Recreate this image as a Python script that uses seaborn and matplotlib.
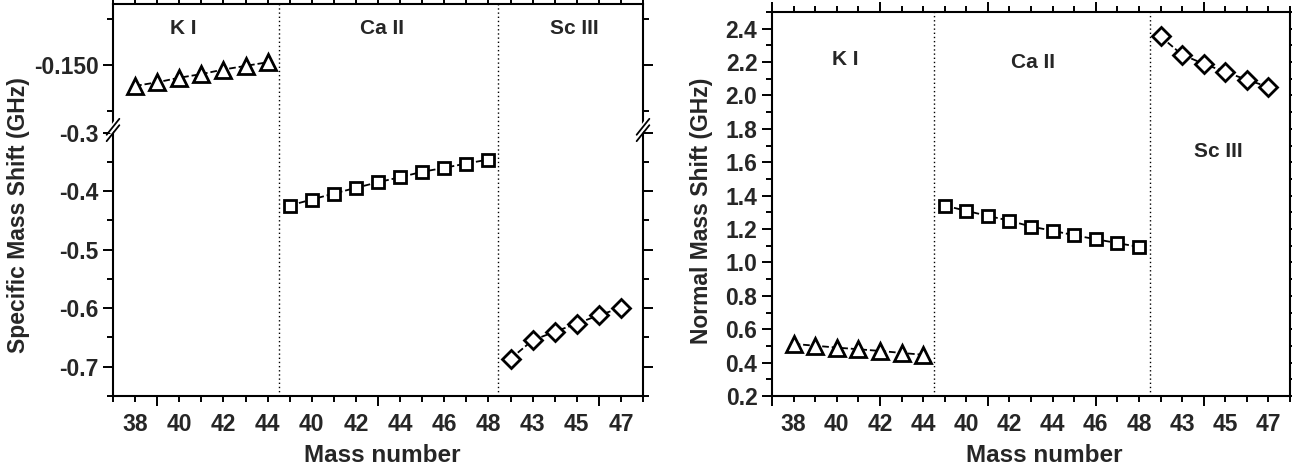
import numpy as np
import matplotlib
matplotlib.use("Agg")
import matplotlib.pyplot as plt
from matplotlib.ticker import MultipleLocator, FormatStrFormatter
import seaborn as sns

# ---- data -------------------------------------------------------------
k_mass = [38, 39, 40, 41, 42, 43, 44]
ca_mass = [39, 40, 41, 42, 43, 44, 45, 46, 47, 48]
sc_mass = [42, 43, 44, 45, 46, 47]

sms_k = [-0.1523, -0.1519, -0.1514, -0.1510, -0.1505, -0.1501, -0.1497]
sms_ca = [-0.4244, -0.4142, -0.4039, -0.3942, -0.3846, -0.3760, -0.3668,
          -0.3600, -0.3526, -0.3458]
sms_sc = [-0.6865, -0.6547, -0.6403, -0.6262, -0.6120, -0.5993]

nms_k = [0.512, 0.501, 0.490, 0.480, 0.470, 0.458, 0.447]
nms_ca = [1.341, 1.309, 1.279, 1.250, 1.215, 1.190, 1.163, 1.139, 1.116, 1.093]
nms_sc = [2.354, 2.244, 2.190, 2.141, 2.094, 2.051]

ion_labels = ["K I", "Ca II", "Sc III"]
left_tick_masses = [[38, 40, 42, 44], [40, 42, 44, 46, 48], [43, 45, 47]]
right_tick_masses = [[38, 40, 42, 44], [40, 42, 44, 46, 48], [43, 45, 47]]

# ---- style ------------------------------------------------------------
sns.set_style("ticks")
plt.rcParams["font.family"] = ["Liberation Sans", "DejaVu Sans"]
plt.rcParams["font.weight"] = "bold"
plt.rcParams["axes.labelweight"] = "bold"

W, H = 1292, 476
fig = plt.figure(figsize=(W / 100, H / 100), dpi=100)


def frac(x0, y0, x1, y1):
    return [x0 / W, 1 - y1 / H, (x1 - x0) / W, (y1 - y0) / H]


SPINE_W = 1.5
TICK_FS = 16.5
LABEL_FS = 16.5
ION_FS = 15

marker_kw = dict(color="black", linestyle="--", dashes=(3, 2.2), linewidth=1.3,
                 markerfacecolor="white", markeredgecolor="black",
                 markeredgewidth=2.0)
marker_style = {"K I": ("^", 11), "Ca II": ("s", 8), "Sc III": ("D", 9)}


def style_axes(ax):
    for s in ax.spines.values():
        s.set_linewidth(SPINE_W)
        s.set_color("black")
        s.set_visible(True)
    ax.tick_params(which="both", direction="out", width=1.4, color="black",
                   labelsize=TICK_FS)
    ax.tick_params(which="major", length=7)
    ax.tick_params(which="minor", length=4)


def draw_series(ax, pos, vals, ion):
    m, ms = marker_style[ion]
    sns.lineplot(x=pos, y=vals, ax=ax, marker=m, markersize=ms,
                 legend=False, **marker_kw)


def mass_labels(ax, groups, offsets):
    sec = ax.secondary_xaxis("bottom")
    pos, labs = [], []
    for masses, off in zip(groups, offsets):
        for mm in masses:
            pos.append(mm + off)
            labs.append(str(mm))
    sec.set_xticks(pos)
    sec.set_xticklabels(labs, fontsize=TICK_FS, fontweight="bold")
    sec.tick_params(length=0, pad=12)
    sec.spines["bottom"].set_visible(False)
    return sec


# ---- left panel: specific mass shift (broken y axis) ---------------------
left_off = [-39, -33, -26]
axL_top = fig.add_axes(frac(113, 4, 643, 130))
axL_bot = fig.add_axes(frac(113, 130, 643, 396))

draw_series(axL_top, np.array(k_mass) + left_off[0], sms_k, "K I")
draw_series(axL_bot, np.array(ca_mass) + left_off[1], sms_ca, "Ca II")
draw_series(axL_bot, np.array(sc_mass) + left_off[2], sms_sc, "Sc III")

for ax in (axL_top, axL_bot):
    ax.set_xlim(-2, 22)
    ax.xaxis.set_major_locator(MultipleLocator(10))
    ax.xaxis.set_minor_locator(MultipleLocator(1))
    ax.set_xlabel("")
    ax.set_ylabel("")
    style_axes(ax)
    for xv in (5.5, 15.45):
        ax.axvline(xv, color="black", linestyle=(0, (1, 2)), linewidth=1.0)

axL_top.set_ylim(-0.15714, -0.14330)
axL_top.yaxis.set_major_locator(MultipleLocator(0.01))
axL_top.yaxis.set_minor_locator(MultipleLocator(0.005))
axL_top.yaxis.set_major_formatter(FormatStrFormatter("%.3f"))
axL_top.spines["bottom"].set_visible(False)
axL_top.tick_params(axis="x", which="both", bottom=False, top=True,
                    labelbottom=False)
axL_top.tick_params(axis="y", which="both", left=True, right=True)

axL_bot.set_ylim(-0.75, -0.2953)
axL_bot.yaxis.set_major_locator(MultipleLocator(0.1))
axL_bot.yaxis.set_minor_locator(MultipleLocator(0.05))
axL_bot.yaxis.set_major_formatter(FormatStrFormatter("%.1f"))
axL_bot.spines["top"].set_visible(False)
axL_bot.tick_params(axis="x", which="both", bottom=True, top=False,
                    labelbottom=False)
axL_bot.tick_params(axis="y", which="both", left=True, right=True)

mass_labels(axL_bot, left_tick_masses, left_off)

# break marks on both vertical spines
for xa in (0.0, 1.0):
    axL_bot.plot([xa - 0.007, xa + 0.007], [0.99, 1.03],
                 transform=axL_bot.transAxes, color="white", linewidth=4,
                 clip_on=False, solid_capstyle="butt", zorder=5)
    for dy in (-0.012, 0.012):
        axL_bot.plot([xa - 0.012, xa + 0.012],
                     [1.0 + dy - 0.03, 1.0 + dy + 0.03],
                     transform=axL_bot.transAxes, color="black",
                     linewidth=1.3, clip_on=False, zorder=6)

# ion labels
for xv, lab in zip((1.2, 10.2, 18.9), ion_labels):
    axL_top.text(xv, -0.14595, lab, fontsize=ION_FS, fontweight="bold",
                 ha="center", va="center")

fig.text(19 / W, 1 - 215 / H, "Specific Mass Shift (GHz)", rotation=90,
         ha="center", va="center", fontsize=LABEL_FS, fontweight="bold")
fig.text(382 / W, 1 - 455 / H, "Mass number", ha="center", va="center",
         fontsize=LABEL_FS + 1, fontweight="bold")

# ---- right panel: normal mass shift -------------------------------------
right_off = [-37, -31, -24]
axR = fig.add_axes(frac(772, 12, 1290, 396))
draw_series(axR, np.array(k_mass) + right_off[0], nms_k, "K I")
draw_series(axR, np.array(ca_mass) + right_off[1], nms_ca, "Ca II")
draw_series(axR, np.array(sc_mass) + right_off[2], nms_sc, "Sc III")

axR.set_xlim(0, 24)
axR.set_ylim(0.2, 2.5)
axR.xaxis.set_major_locator(MultipleLocator(5))
axR.xaxis.set_minor_locator(MultipleLocator(1))
axR.yaxis.set_major_locator(MultipleLocator(0.2))
axR.yaxis.set_minor_locator(MultipleLocator(0.1))
axR.yaxis.set_major_formatter(FormatStrFormatter("%.1f"))
axR.set_xlabel("")
axR.set_ylabel("")
style_axes(axR)
axR.tick_params(axis="x", which="both", bottom=True, top=True,
                labelbottom=False)
axR.tick_params(axis="y", which="both", left=True, right=True)
for xv in (7.5, 17.5):
    axR.axvline(xv, color="black", linestyle=(0, (1, 2)), linewidth=1.0)

mass_labels(axR, right_tick_masses, right_off)

for xv, yv, lab in zip((3.4, 12.1, 20.7), (2.214, 2.20, 1.663), ion_labels):
    axR.text(xv, yv, lab, fontsize=ION_FS, fontweight="bold",
             ha="center", va="center")

fig.text(702 / W, 1 - 211 / H, "Normal Mass Shift (GHz)", rotation=90,
         ha="center", va="center", fontsize=LABEL_FS, fontweight="bold")
fig.text(1044 / W, 1 - 455 / H, "Mass number", ha="center", va="center",
         fontsize=LABEL_FS + 1, fontweight="bold")

fig.savefig("out.png", dpi=100, facecolor="white")
